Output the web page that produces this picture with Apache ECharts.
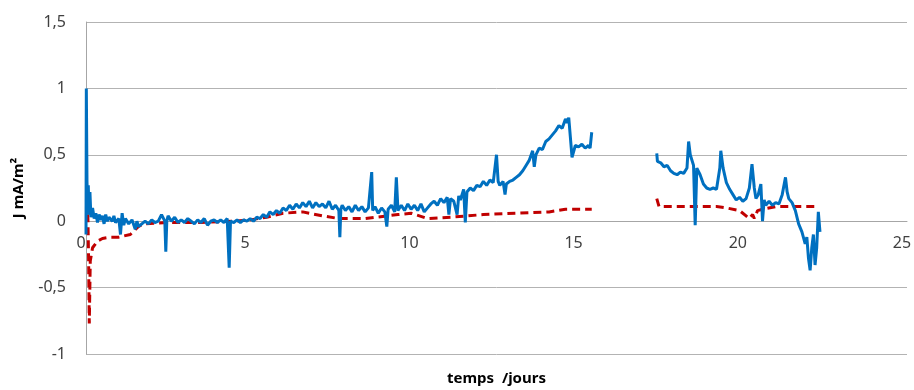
<!DOCTYPE html>
<html>
<head>
<meta charset="utf-8">
<script src="https://cdn.jsdelivr.net/npm/echarts@6/dist/echarts.min.js"></script>
<style>
  html, body { margin: 0; padding: 0; background: #fff; }
  #chart { width: 914px; height: 390px; }
</style>
</head>
<body>
<div id="chart"></div>
<script>
  // courant mesuré (bleu) : [jours, J]
  var bleuData = [
    [0, -0.1], [0.01, 1.0], [0.03, 0.3], [0.05, 0.1], [0.07, 0.27], [0.09, 0.05], [0.12, 0.22], [0.15, 0.03],
    [0.2, 0.1], [0.25, 0.02], [0.3, 0.06], [0.35, -0.01], [0.4, 0.05], [0.45, 0.01], [0.5, 0.04], [0.55, -0.02],
    [0.6, 0.05], [0.65, 0.0], [0.7, 0.03], [0.8, 0.0], [0.85, 0.04], [0.9, -0.01], [1.0, 0.02], [1.05, -0.1],
    [1.1, 0.06], [1.15, -0.03], [1.2, 0.02], [1.3, -0.02], [1.4, 0.01], [1.5, -0.06], [1.55, 0.0], [1.6, -0.04],
    [1.7, -0.02], [1.8, 0.0], [1.9, -0.02], [2.0, 0.01], [2.1, -0.01], [2.2, 0.0], [2.3, 0.05], [2.4, 0.0],
    [2.43, -0.23], [2.46, 0.0], [2.5, 0.04], [2.6, 0.0], [2.7, 0.03], [2.8, -0.01], [2.9, 0.01], [3.0, -0.01],
    [3.1, 0.02], [3.2, 0.0], [3.3, -0.02], [3.4, 0.01], [3.5, -0.01], [3.6, 0.02], [3.7, -0.03], [3.8, 0.0],
    [3.9, 0.01], [4.0, -0.01], [4.1, 0.01], [4.2, -0.01], [4.3, 0.02], [4.36, -0.35], [4.4, 0.0], [4.5, -0.01],
    [4.6, 0.01], [4.7, -0.01], [4.8, 0.01], [4.9, 0.0], [5.0, 0.02],
    [5.1, 0.0], [5.2, 0.03], [5.3, 0.02], [5.4, 0.05], [5.5, 0.03], [5.6, 0.07], [5.7, 0.05], [5.8, 0.08],
    [5.9, 0.06], [6.0, 0.1], [6.1, 0.08], [6.2, 0.12], [6.3, 0.09], [6.4, 0.13], [6.5, 0.1], [6.6, 0.14],
    [6.7, 0.11], [6.8, 0.15], [6.9, 0.1], [7.0, 0.14], [7.1, 0.11], [7.2, 0.13], [7.3, 0.1], [7.4, 0.15],
    [7.5, 0.09], [7.6, 0.12], [7.7, 0.08], [7.73, -0.12], [7.76, 0.09], [7.8, 0.12], [7.9, 0.08], [8.0, 0.11],
    [8.1, 0.07], [8.2, 0.12], [8.3, 0.08], [8.4, 0.11], [8.5, 0.07], [8.6, 0.1], [8.7, 0.37], [8.73, 0.08],
    [8.8, 0.11], [8.9, 0.06], [9.0, 0.1], [9.1, 0.07], [9.16, -0.04], [9.2, 0.09], [9.3, 0.12], [9.4, 0.07],
    [9.45, 0.33], [9.5, 0.08], [9.6, 0.12], [9.7, 0.08], [9.8, 0.13], [9.9, 0.09], [10.0, 0.12], [10.1, 0.08],
    [10.2, 0.13], [10.3, 0.07], [10.4, 0.1], [10.5, 0.13],
    [10.6, 0.15], [10.7, 0.12], [10.8, 0.17], [10.9, 0.14], [11.0, 0.18], [11.05, 0.05], [11.1, 0.17], [11.2, 0.15],
    [11.3, 0.05], [11.35, 0.19], [11.4, 0.16], [11.5, 0.24], [11.55, -0.01], [11.6, 0.22], [11.7, 0.25], [11.8, 0.23],
    [11.9, 0.27], [12.0, 0.26], [12.1, 0.3], [12.2, 0.27], [12.3, 0.31], [12.4, 0.29], [12.5, 0.5], [12.55, 0.3],
    [12.6, 0.27], [12.7, 0.3], [12.76, 0.2], [12.8, 0.28], [12.9, 0.3], [13.0, 0.31], [13.1, 0.33], [13.2, 0.35],
    [13.3, 0.38], [13.4, 0.42], [13.5, 0.46], [13.6, 0.53], [13.65, 0.41], [13.7, 0.5], [13.8, 0.55], [13.9, 0.54],
    [14.0, 0.6], [14.1, 0.62], [14.2, 0.65], [14.3, 0.68], [14.4, 0.72], [14.5, 0.7], [14.6, 0.77], [14.65, 0.74],
    [14.7, 0.78], [14.8, 0.48], [14.9, 0.57], [15.0, 0.56], [15.1, 0.58], [15.2, 0.55], [15.3, 0.57], [15.35, 0.55],
    [15.4, 0.67],
    [16.5, null],
    [17.38, 0.51], [17.4, 0.45], [17.5, 0.44], [17.6, 0.41], [17.7, 0.42], [17.8, 0.38], [17.9, 0.36], [18.0, 0.35],
    [18.1, 0.37], [18.2, 0.36], [18.3, 0.4], [18.35, 0.6], [18.4, 0.5], [18.5, 0.42], [18.55, -0.03], [18.6, 0.4],
    [18.7, 0.35], [18.8, 0.28], [18.9, 0.25], [19.0, 0.24], [19.1, 0.25], [19.2, 0.24], [19.3, 0.4], [19.33, 0.53],
    [19.4, 0.4], [19.5, 0.29], [19.6, 0.24], [19.7, 0.2], [19.8, 0.16], [19.9, 0.18], [20.0, 0.15], [20.1, 0.17],
    [20.2, 0.25], [20.28, 0.43], [20.35, 0.25], [20.4, 0.17], [20.47, 0.2], [20.55, 0.28], [20.6, 0.0], [20.65, 0.16],
    [20.7, 0.12], [20.8, 0.15], [20.9, 0.12], [21.0, 0.14], [21.1, 0.13], [21.2, 0.2], [21.3, 0.33], [21.35, 0.22],
    [21.4, 0.17], [21.5, 0.14], [21.6, 0.08], [21.7, -0.02], [21.8, -0.08], [21.9, -0.17], [21.95, -0.12], [22.0, -0.28],
    [22.05, -0.37], [22.1, -0.2], [22.15, -0.1], [22.2, -0.33], [22.25, -0.2], [22.3, 0.07], [22.35, -0.08]
  ];

  // courant de référence (rouge, pointillé)
  var rougeData = [
    [0.05, 0.15], [0.08, -0.3], [0.1, -0.77], [0.13, -0.3], [0.2, -0.2], [0.35, -0.15], [0.5, -0.13], [0.75, -0.12],
    [1.0, -0.12], [1.35, -0.1], [1.6, -0.04], [1.75, -0.02], [2.5, -0.01], [3.5, -0.01], [4.5, 0.0], [5.0, 0.01],
    [5.5, 0.03], [6.0, 0.06], [6.6, 0.07], [7.2, 0.04], [7.7, 0.02], [8.5, 0.02], [9.5, 0.05], [9.9, 0.06],
    [10.4, 0.02], [11.1, 0.03], [12.1, 0.05], [13.1, 0.06], [14.1, 0.07], [14.6, 0.09], [15.4, 0.09],
    [16.5, null],
    [17.38, 0.17], [17.45, 0.11], [18.0, 0.11], [19.2, 0.11], [19.5, 0.1], [19.9, 0.08], [20.1, 0.04], [20.2, 0.02],
    [20.3, 0.05], [20.35, 0.02], [20.45, 0.08], [20.6, 0.09], [21.0, 0.11], [22.2, 0.11]
  ];

  var xTicks = [0, 25, 5];      // min, max, pas
  var yTicks = [-1, 1.5, 0.5];

  var fmt = function (v) { return String(v).replace('.', ','); };

  var gridTop = 22, gridBottom = 36, H = 390;
  // l'axe des x croise l'axe des y en 0 : décalage depuis le bas de la grille
  var plotH = H - gridTop - gridBottom;
  var zeroOffset = -plotH * (0 - yTicks[0]) / (yTicks[1] - yTicks[0]);

  var chart = echarts.init(document.getElementById('chart'));
  var option = {
    animation: false,
    grid: { left: 86, right: 7, top: gridTop, bottom: gridBottom, containLabel: false, outerBoundsMode: 'none' },
    xAxis: {
      type: 'value',
      min: xTicks[0], max: xTicks[1], interval: xTicks[2],
      position: 'bottom',
      offset: zeroOffset,
      name: 'temps  /jours',
      nameLocation: 'middle',
      nameGap: 150,
      nameTextStyle: { fontFamily: 'Noto Sans', fontSize: 15, fontWeight: 'bold', color: '#000' },
      axisLine: { onZero: false, lineStyle: { color: '#a6a6a6', width: 1 } },
      axisTick: { show: false },
      axisLabel: { fontFamily: 'Noto Sans', fontSize: 16, color: '#404040', margin: 14, padding: [0, 10, 0, 0] },
      splitLine: { show: false }
    },
    yAxis: {
      type: 'value',
      min: yTicks[0], max: yTicks[1], interval: yTicks[2],
      name: 'J mA/m²',
      nameLocation: 'middle',
      nameRotate: 90,
      nameGap: 60,
      nameTextStyle: { fontFamily: 'Noto Sans', fontSize: 15, fontWeight: 'bold', color: '#000' },
      axisLine: { show: true, onZero: false, lineStyle: { color: '#a6a6a6', width: 1 } },
      axisTick: { show: false },
      axisLabel: { fontFamily: 'Noto Sans', fontSize: 16, color: '#404040', margin: 20, formatter: fmt },
      splitLine: { lineStyle: { color: '#b3b3b3', width: 1 } }
    },
    series: [
      {
        type: 'line',
        data: rougeData,
        showSymbol: false,
        connectNulls: false,
        z: 2,
        lineStyle: { color: '#c00000', width: 3, type: [8, 5] }
      },
      {
        type: 'line',
        data: bleuData,
        showSymbol: false,
        connectNulls: false,
        z: 3,
        lineStyle: { color: '#0070c0', width: 3 }
      }
    ]
  };
  chart.setOption(option);
</script>
</body>
</html>
